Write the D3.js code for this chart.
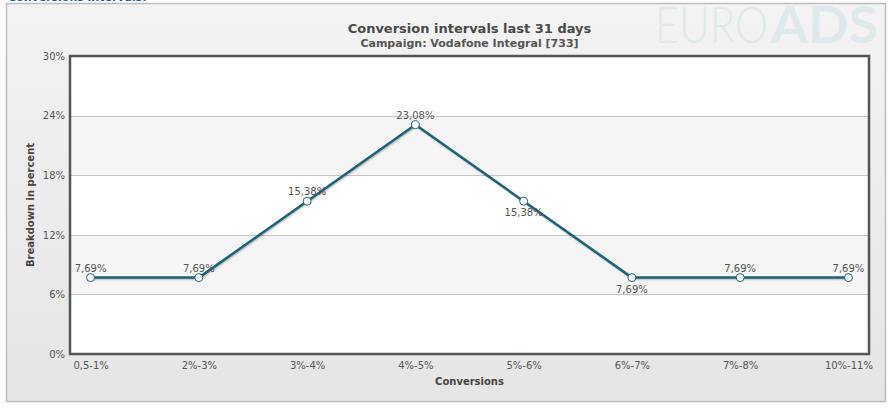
<!DOCTYPE html>
<html>
<head>
<meta charset="utf-8">
<script src="https://cdn.jsdelivr.net/npm/d3@7"></script>
<style>
  body { margin: 0; background: #fff; }
  text { font-family: "DejaVu Sans", Verdana, sans-serif; }
</style>
</head>
<body>
<div id="chart"></div>
<script>
var categories = ["0,5-1%", "2%-3%", "3%-4%", "4%-5%", "5%-6%", "6%-7%", "7%-8%", "10%-11%"];
var values = [7.69, 7.69, 15.38, 23.08, 15.38, 7.69, 7.69, 7.69];
var labelBelow = [false, false, false, false, true, true, false, false];
var yTicks = [0, 6, 12, 18, 24, 30];

var w = 891, h = 408;
var plotX = 70, plotY = 56, plotW = 799, plotH = 298;

var svg = d3.select("#chart").append("svg")
    .attr("width", w)
    .attr("height", h);

var defs = svg.append("defs");
var grad = defs.append("linearGradient")
    .attr("id", "bg")
    .attr("x1", 0).attr("y1", 0).attr("x2", 0).attr("y2", 1);
grad.append("stop").attr("offset", "0%").attr("stop-color", "#f3f3f3");
grad.append("stop").attr("offset", "100%").attr("stop-color", "#e5e5e5");

// cut off heading above the chart
svg.append("text")
    .attr("x", 8)
    .attr("y", 1)
    .attr("font-size", 11)
    .attr("font-weight", "bold")
    .attr("fill", "#1c5f9e")
    .text("Conversions intervals:");

// outer frame
svg.append("rect")
    .attr("x", 6.5)
    .attr("y", 3.5)
    .attr("width", 879)
    .attr("height", 398)
    .attr("fill", "url(#bg)")
    .attr("stroke", "#bdbdbd")
    .attr("stroke-width", 1.5);

// watermark
var wm = svg.append("text")
    .attr("y", 43)
    .attr("font-size", 52)
    .attr("fill", "#dde9ea")
    .style("font-family", "Lato, 'Open Sans', sans-serif");
wm.append("tspan")
    .attr("x", 655)
    .attr("font-weight", 300)
    .attr("textLength", 113)
    .attr("lengthAdjust", "spacingAndGlyphs")
    .text("EURO");
wm.append("tspan")
    .attr("x", 771)
    .attr("font-weight", "bold")
    .attr("textLength", 107)
    .attr("lengthAdjust", "spacingAndGlyphs")
    .text("ADS");

var x = d3.scalePoint()
    .domain(categories)
    .range([plotX, plotX + plotW])
    .padding(0.19);

var y = d3.scaleLinear()
    .domain([0, 30])
    .range([plotY + plotH, plotY]);

// plot background and alternating bands
svg.append("rect")
    .attr("x", plotX).attr("y", plotY)
    .attr("width", plotW).attr("height", plotH)
    .attr("fill", "#fff");

svg.selectAll(".band")
    .data([6, 18])
    .enter().append("rect")
    .attr("class", "band")
    .attr("x", plotX)
    .attr("y", function (d) { return y(d + 6); })
    .attr("width", plotW)
    .attr("height", function (d) { return y(d) - y(d + 6); })
    .attr("fill", "#f5f5f5");

svg.selectAll(".grid")
    .data(yTicks.slice(1, -1))
    .enter().append("line")
    .attr("class", "grid")
    .attr("x1", plotX).attr("x2", plotX + plotW)
    .attr("y1", function (d) { return Math.round(y(d)) + 0.5; })
    .attr("y2", function (d) { return Math.round(y(d)) + 0.5; })
    .attr("stroke", "#c6c6c6")
    .attr("stroke-width", 1);

// axes
var yAxis = d3.axisLeft(y)
    .tickValues(yTicks)
    .tickSize(0)
    .tickPadding(5)
    .tickFormat(function (d) { return d + "%"; });

var gy = svg.append("g")
    .attr("transform", "translate(" + plotX + ",0)")
    .call(yAxis);
gy.select(".domain").remove();
gy.selectAll("text")
    .attr("font-size", 10)
    .attr("fill", "#555")
    .style("font-family", "'DejaVu Sans', Verdana, sans-serif");

var xAxis = d3.axisBottom(x)
    .tickSize(0)
    .tickPadding(8);

var gx = svg.append("g")
    .attr("transform", "translate(0," + (plotY + plotH) + ")")
    .call(xAxis);
gx.select(".domain").remove();
gx.selectAll("text")
    .attr("font-size", 10)
    .attr("fill", "#555")
    .style("font-family", "'DejaVu Sans', Verdana, sans-serif");

// plot border
svg.append("rect")
    .attr("x", plotX).attr("y", plotY)
    .attr("width", plotW).attr("height", plotH)
    .attr("fill", "none")
    .attr("stroke", "#555")
    .attr("stroke-width", 2.5);

// titles
svg.append("text")
    .attr("x", plotX + plotW / 2)
    .attr("y", 33)
    .attr("text-anchor", "middle")
    .attr("font-size", 13)
    .attr("font-weight", "bold")
    .attr("fill", "#4a4a4a")
    .text("Conversion intervals last 31 days");

svg.append("text")
    .attr("x", plotX + plotW / 2)
    .attr("y", 47)
    .attr("text-anchor", "middle")
    .attr("font-size", 11)
    .attr("font-weight", "bold")
    .attr("fill", "#555")
    .text("Campaign: Vodafone Integral [733]");

svg.append("text")
    .attr("x", plotX + plotW / 2)
    .attr("y", 385)
    .attr("text-anchor", "middle")
    .attr("font-size", 10)
    .attr("font-weight", "bold")
    .attr("fill", "#444")
    .text("Conversions");

svg.append("text")
    .attr("transform", "translate(34," + (plotY + plotH / 2) + ") rotate(-90)")
    .attr("text-anchor", "middle")
    .attr("font-size", 10)
    .attr("font-weight", "bold")
    .attr("fill", "#444")
    .text("Breakdown in percent");

// series
var line = d3.line()
    .x(function (d, i) { return x(categories[i]); })
    .y(function (d) { return y(d); });

[[5, 0.05], [3, 0.1], [1, 0.15]].forEach(function (s) {
    svg.append("path")
        .datum(values)
        .attr("d", line)
        .attr("transform", "translate(1,1)")
        .attr("fill", "none")
        .attr("stroke", "#000")
        .attr("stroke-opacity", s[1])
        .attr("stroke-width", s[0]);
});

svg.append("path")
    .datum(values)
    .attr("d", line)
    .attr("fill", "none")
    .attr("stroke", "#1b6378")
    .attr("stroke-width", 2.5)
    .attr("stroke-linejoin", "round");

svg.selectAll(".dot")
    .data(values)
    .enter().append("circle")
    .attr("class", "dot")
    .attr("cx", function (d, i) { return x(categories[i]); })
    .attr("cy", function (d) { return y(d); })
    .attr("r", 4)
    .attr("fill", "#fff")
    .attr("stroke", "#1b6378")
    .attr("stroke-width", 1);

svg.selectAll(".lbl")
    .data(values)
    .enter().append("text")
    .attr("class", "lbl")
    .attr("x", function (d, i) { return x(categories[i]); })
    .attr("y", function (d, i) { return y(d) + (labelBelow[i] ? 15 : -6); })
    .attr("text-anchor", "middle")
    .attr("font-size", 10)
    .attr("fill", "#555")
    .text(function (d) { return d.toFixed(2).replace(".", ",") + "%"; });
</script>
</body>
</html>
